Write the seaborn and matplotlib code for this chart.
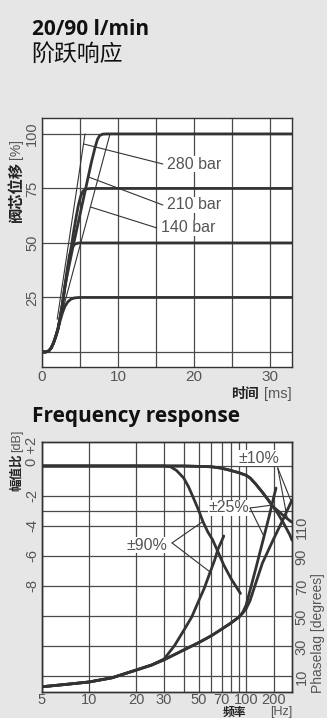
import numpy as np
import pandas as pd
import seaborn as sns
import matplotlib
matplotlib.use("Agg")
import matplotlib.pyplot as plt
from matplotlib import font_manager as fm

# ---------------- data: step response (time in ms, stroke in %) ----------------
t_s25 = [0, 0.5, 0.9, 1.2, 1.5, 1.8, 2.1, 2.4, 2.7, 3.0, 3.4, 3.8, 4.3, 5.0, 6.0, 32.9]
v_s25 = [0, 0, 0.5, 1.8, 4, 7, 10.5, 14.5, 18, 20.8, 23, 24.2, 24.8, 25, 25, 25]
t_s50 = [0, 0.5, 0.9, 1.2, 1.5, 1.8, 2.1, 2.4, 2.7, 3.0, 3.3, 3.6, 3.9, 4.3, 4.8, 6.0, 32.9]
v_s50 = [0, 0, 0.5, 1.8, 4, 7, 10.5, 16, 22.5, 30, 37.5, 44, 47.8, 49.4, 50, 50, 50]
t_s75 = [0, 0.5, 0.9, 1.2, 1.5, 1.8, 2.1, 2.4, 2.7, 3.0, 3.4, 3.8, 4.2, 4.5, 4.8, 5.1, 5.4, 5.8, 6.5, 32.9]
v_s75 = [0, 0, 0.5, 1.8, 4, 7, 10.5, 16, 22, 29, 38, 47, 56, 62, 67.5, 71.5, 73.8, 74.8, 75, 75]
t_s100 = [0, 0.5, 0.9, 1.2, 1.5, 1.8, 2.1, 2.4, 2.7, 3.0, 3.5, 4.0, 4.5, 5.0, 5.5, 6.0, 6.5, 7.0, 7.3, 7.6, 8.0, 8.5, 32.9]
v_s100 = [0, 0, 0.5, 1.8, 4, 7, 10.5, 16, 22, 30, 38.5, 47, 55, 63, 71, 79, 87, 94, 97.5, 99.3, 99.9, 100, 100]
t_280 = [2.0, 5.66]
v_280 = [15, 100]
t_140 = [2.4, 8.95]
v_140 = [15, 100]
pressure_labels = ["280 bar", "210 bar", "140 bar"]

# ---------------- data: frequency response ----------------
f_amp90 = [5, 10, 20, 30, 33, 36, 40, 43, 46, 50, 53, 57, 61, 66, 72, 80, 92]
db_amp90 = [0, 0, 0, 0, -0.05, -0.3, -0.8, -1.4, -2.1, -3.0, -3.7, -4.4, -4.9, -5.7, -6.6, -7.5, -8.5]
f_amp25 = [5, 20, 40, 60, 70, 80, 90, 100, 106, 115, 128, 138, 148, 160, 175, 190, 196]
db_amp25 = [0, 0, 0, -0.05, -0.15, -0.3, -0.45, -0.62, -0.8, -1.2, -1.8, -2.25, -2.7, -3.2, -3.9, -4.6, -4.95]
f_amp10 = [5, 20, 40, 60, 70, 80, 90, 100, 106, 115, 128, 138, 148, 160, 175, 190, 196]
db_amp10 = [0, 0, 0, -0.05, -0.15, -0.3, -0.45, -0.62, -0.8, -1.2, -1.8, -2.25, -2.7, -3.0, -3.35, -3.65, -3.75]
f_ph90 = [5, 7, 10, 14, 20, 25, 30, 35, 40, 45, 49, 54, 59, 63, 66, 70, 72]
ph90 = [3.5, 5, 6.7, 9.5, 14.7, 18, 22, 31, 41, 50, 59, 69, 80, 88, 95, 101, 104]
f_ph25 = [5, 7, 10, 14, 20, 25, 30, 40, 50, 60, 70, 80, 90, 95, 100, 106, 115, 128, 140, 150, 155]
ph25 = [3.5, 5, 6.7, 9.5, 14.7, 18, 21.5, 28, 33, 37.5, 42, 46, 50, 53, 58, 68, 82, 101, 117, 130, 136]
f_ph10 = [5, 7, 10, 14, 20, 25, 30, 40, 50, 60, 70, 80, 90, 95, 100, 106, 113, 127, 148, 170, 196]
ph10 = [3.5, 5, 6.7, 9.5, 14.7, 18, 21.5, 28, 33, 37.5, 42, 46, 50, 52.5, 55.5, 61, 70, 86, 101, 114, 128]
amp_labels = ["±90%", "±25%", "±10%"]

f_ticks = [5, 10, 20, 30, 50, 70, 100, 150]
f_ticklabels = ["5", "10", "20", "30", "50", "70", "100", "200"]
db_ticks = [0, -2, -4, -6, -8]
db_ticklabels = ["0 +2", "-2", "-4", "-6", "-8"]
ph_ticks = [10, 30, 50, 70, 90, 110]

# ---------------- style ----------------
sns.set_style("white")
BG = "#e6e6e6"
INK = "#333333"
GRID = "#4a4a4a"
TICKC = "#555555"


def has_font(name):
    try:
        fm.findfont(fm.FontProperties(family=name), fallback_to_default=False)
        return True
    except Exception:
        return False


LIGHT = "Liberation Sans" if has_font("Liberation Sans") else "DejaVu Sans"
TITLE = "Open Sans" if has_font("Open Sans") else "DejaVu Sans"
CJK = "Noto Sans CJK SC"
plt.rcParams["font.family"] = [LIGHT, CJK, "DejaVu Sans"]

fig = plt.figure(figsize=(3.27, 7.18), dpi=100)
fig.patch.set_facecolor(BG)

# ================= top: step response =================
ax = fig.add_axes([42 / 327, 1 - 367 / 718, 250 / 327, 249 / 718])
ax.set_facecolor("white")
for t, v in [(t_s25, v_s25), (t_s50, v_s50), (t_s75, v_s75), (t_s100, v_s100)]:
    sns.lineplot(x=t, y=v, ax=ax, color=INK, linewidth=2.0, sort=False, estimator=None)
for t, v in [(t_280, v_280), (t_140, v_140)]:
    sns.lineplot(x=t, y=v, ax=ax, color=INK, linewidth=0.8, sort=False, estimator=None)

ax.set_xlim(0, 32.9)
ax.set_ylim(-6.9, 107.3)
ax.set_xticks([0, 10, 20, 30])
ax.set_xticks([5, 15, 25], minor=True)
ax.set_yticks([25, 50, 75, 100])
ax.set_yticks([0], minor=True)
ax.grid(True, which="both", color=GRID, linewidth=0.9)
ax.tick_params(which="both", length=0)
ax.tick_params(axis="x", labelsize=11, labelcolor=TICKC, pad=2)
ax.tick_params(axis="y", labelsize=10.5, labelcolor=TICKC, pad=2)
for lab in ax.get_yticklabels():
    lab.set_rotation(90)
    lab.set_va("center")
for s in ax.spines.values():
    s.set_color(INK)
    s.set_linewidth(1.0)
ax.set_xlabel("")
ax.set_ylabel("")

# pressure labels with leader lines
anchors_top = [
    (np.interp(95.4, v_280, t_280), 95.4),
    (np.interp(80.3, v_s100, t_s100), 80.3),
    (np.interp(66.5, v_140, t_140), 66.5),
]
ends_top = [(15.9, 86.2), (15.9, 67.4), (15.1, 56.9)]
for lab, (ax0, ay0), (ex, ey) in zip(pressure_labels, anchors_top, ends_top):
    ax.annotate("", xy=(ax0, ay0), xytext=(ex, ey),
                arrowprops=dict(arrowstyle="-", color=INK, lw=0.8, shrinkA=0, shrinkB=0))
    ax.text(ex + 0.6, ey, lab, fontsize=11.5, color=TICKC,
            va="center", ha="left",
            bbox=dict(facecolor="white", edgecolor="none", pad=0.5))

# ================= bottom: frequency response =================
bx = fig.add_axes([42 / 327, 1 - 692 / 718, 250 / 327, 250 / 718])
bx.set_facecolor("white")
bx.set_xscale("log")
bx.set_xlim(5, 196)
bx.set_ylim(-15.07, 1.6)
bx2 = bx.twinx()
bx2.set_ylim(0, 166.7)

for f, d in [(f_amp90, db_amp90), (f_amp25, db_amp25), (f_amp10, db_amp10)]:
    sns.lineplot(x=f, y=d, ax=bx, color=INK, linewidth=2.0, sort=False, estimator=None)
for f, p in [(f_ph90, ph90), (f_ph25, ph25), (f_ph10, ph10)]:
    sns.lineplot(x=f, y=p, ax=bx2, color=INK, linewidth=2.0, sort=False, estimator=None)

bx.set_xticks(f_ticks)
bx.set_xticklabels(f_ticklabels)
bx.set_xticks([40, 60, 80, 90], minor=True)
bx.xaxis.set_minor_formatter(matplotlib.ticker.NullFormatter())
bx.set_yticks(db_ticks)
bx.set_yticklabels(db_ticklabels)
bx.set_yticks([-3, -10, -12, -14], minor=True)
bx.grid(True, which="both", color=GRID, linewidth=0.9)
bx.tick_params(which="both", length=0)
bx.tick_params(axis="x", labelsize=10.5, labelcolor=TICKC, pad=0.5)
bx.tick_params(axis="y", labelsize=10.5, labelcolor=TICKC, pad=2)
for lab in bx.get_yticklabels():
    lab.set_rotation(90)
    lab.set_va("center")
bx.get_yticklabels()[0].set_va("bottom")
bx2.set_yticks(ph_ticks)
bx2.tick_params(length=0, labelsize=10.5, labelcolor=TICKC, pad=2)
for lab in bx2.get_yticklabels():
    lab.set_rotation(90)
    lab.set_va("center")
for a in (bx, bx2):
    for s in a.spines.values():
        s.set_color(INK)
        s.set_linewidth(1.0)
    a.set_xlabel("")
    a.set_ylabel("")


def lead(txt_xy, target_xy, target_ax):
    bx.annotate("", xy=target_xy, xycoords=target_ax.transData, xytext=txt_xy,
                textcoords=bx.transData,
                arrowprops=dict(arrowstyle="-", color=INK, lw=0.8, shrinkA=0, shrinkB=0))


lab_box = dict(facecolor="white", edgecolor="none", pad=0.3)
# ±90%
bx.text(17.4, -5.27, amp_labels[0], fontsize=11.5, color=TICKC,
        va="center", ha="left", bbox=lab_box)
lead((33.7, -5.13), (53, np.interp(53, f_amp90, db_amp90)), bx)
lead((33.7, -5.13), (59, np.interp(59, f_ph90, ph90)), bx2)
# ±25%
bx.text(57.3, -2.8, amp_labels[1], fontsize=11.5, color=TICKC,
        va="center", ha="left", bbox=lab_box)
lead((106, -2.8), (146, np.interp(146, f_amp25, db_amp25)), bx)
lead((106, -2.8), (130, np.interp(130, f_ph25, ph25)), bx2)
# ±10%
bx.text(90, 0.53, amp_labels[2], fontsize=11.5, color=TICKC,
        va="center", ha="left", bbox=lab_box)
lead((159, -0.13), (183, np.interp(183, f_amp10, db_amp10)), bx)
lead((159, -0.13), (194, np.interp(194, f_ph10, ph10)), bx2)

# ================= titles and axis labels =================
fig.text(32 / 327, 1 - 35 / 718, "20/90 l/min", fontsize=15, fontweight="bold",
         family=[TITLE, "DejaVu Sans"], color="#111111", ha="left", va="baseline")
fig.text(31 / 327, 1 - 54 / 718, "阶跃响应", fontsize=16.5, family=[CJK, "DejaVu Sans"],
         color="#111111", ha="left", va="center")
fig.text(32 / 327, 1 - 422 / 718, "Frequency response", fontsize=15, fontweight="bold",
         family=[TITLE, "DejaVu Sans"], color="#111111", ha="left", va="baseline")

# top y label
fig.text(16 / 327, 1 - 222 / 718, "阀芯位移", fontsize=11, fontweight="bold",
         family=[CJK, "DejaVu Sans"], color="#222222", rotation=90, ha="center", va="bottom")
fig.text(16 / 327, 1 - 159 / 718, "[%]", fontsize=10, family=[LIGHT, "DejaVu Sans"],
         color=TICKC, rotation=90, ha="center", va="bottom")
# top x label
fig.text(231 / 327, 1 - 394 / 718, "时间", fontsize=10, fontweight="bold",
         family=[CJK, "DejaVu Sans"], color="#222222", ha="left", va="center")
fig.text(292 / 327, 1 - 394 / 718, "[ms]", fontsize=10.5, family=[LIGHT, "DejaVu Sans"],
         color=TICKC, ha="right", va="center")
# bottom y label
fig.text(17 / 327, 1 - 491 / 718, "幅值比", fontsize=9, fontweight="bold",
         family=[CJK, "DejaVu Sans"], color="#222222", rotation=90, ha="center", va="bottom")
fig.text(17 / 327, 1 - 452 / 718, "[dB]", fontsize=9, family=[LIGHT, "DejaVu Sans"],
         color=TICKC, rotation=90, ha="center", va="bottom")
# right label
fig.text(318 / 327, 1 - 693 / 718, "Phaselag [degrees]", fontsize=10,
         family=[LIGHT, "DejaVu Sans"], color=TICKC, rotation=90, ha="center", va="bottom")
# bottom x label
fig.text(223 / 327, 1 - 718.5 / 718, "频率", fontsize=8.5, fontweight="bold",
         family=[CJK, "DejaVu Sans"], color="#222222", ha="left", va="bottom")
fig.text(292 / 327, 1 - 718.5 / 718, "[Hz]", fontsize=9, family=[LIGHT, "DejaVu Sans"],
         color=TICKC, ha="right", va="bottom")

fig.savefig("out.png", dpi=100, facecolor=BG)
